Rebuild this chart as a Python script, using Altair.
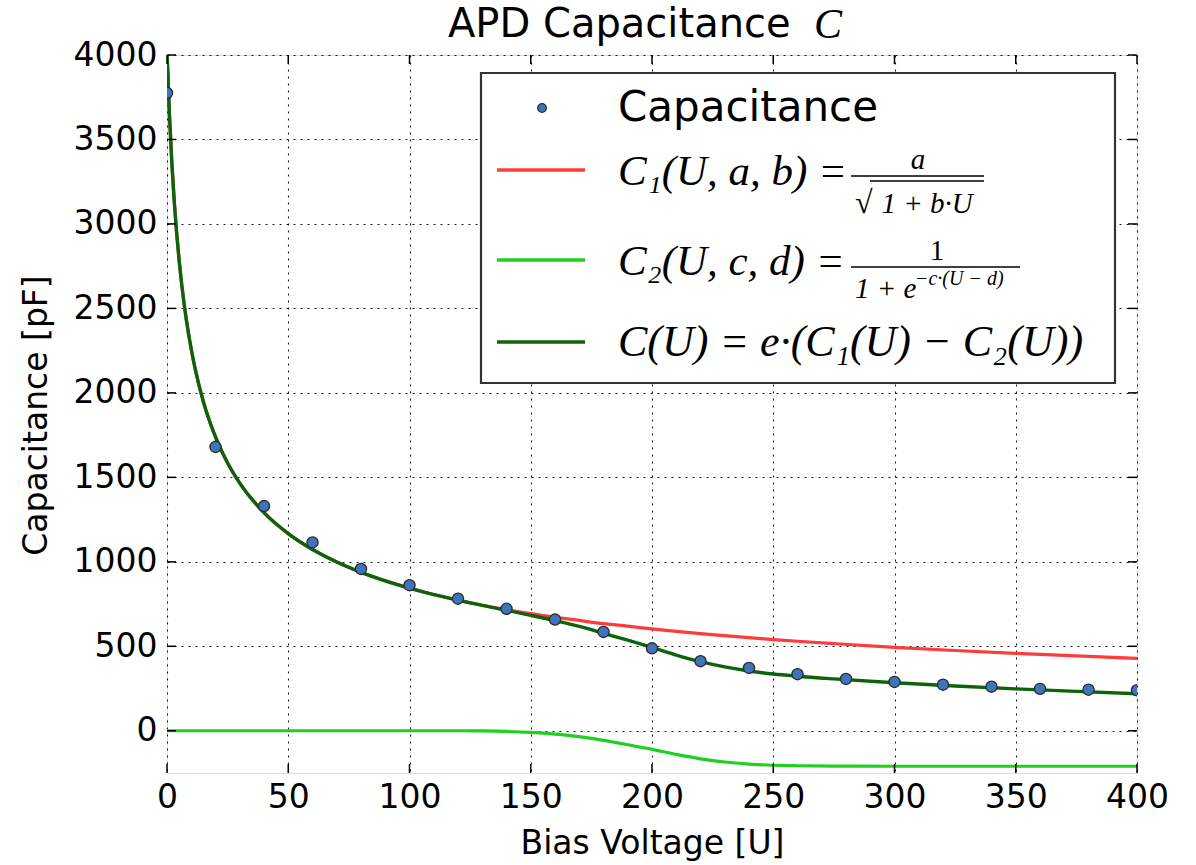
import altair as alt
import pandas as pd

# ---------------- data ----------------
U_meas = [0, 20, 40, 60, 80, 100, 120, 140, 160, 180, 200,
          220, 240, 260, 280, 300, 320, 340, 360, 380, 400]
C_meas = [3775, 1680, 1330, 1115, 958, 862, 782, 722, 658, 585, 488,
          412, 372, 335, 307, 289, 273, 261, 248, 243, 240]

U_fit = [0, 1, 2, 3, 4, 5, 6, 8, 10, 12, 15, 20, 25, 30, 40, 50, 60, 70, 80,
         100, 120, 130, 140, 150, 160, 170, 180, 190, 200, 210, 220, 230, 240,
         250, 260, 275, 300, 325, 350, 375, 400]
C1_fit = [4026, 3648, 3360, 3131, 2943, 2785, 2650, 2430, 2258, 2117, 1948,
          1739, 1585, 1466, 1291, 1167, 1073, 999, 938, 844, 773, 743, 717,
          693, 672, 653, 634, 619, 603, 588, 575, 563, 551, 540, 530, 516,
          494, 475, 458, 443, 429]
C2_fit = [0, 0, 0, 0, 0, 0, 0, 0, 0, 0, 0, 0, 0, 0, 0, 0, 0, 0, 0, 0, 0, -1,
          -4, -10, -20, -35, -57, -83, -110, -140, -166, -185, -197, -204,
          -207, -209, -210, -210, -210, -210, -210]
C_fit = [4026, 3648, 3360, 3131, 2943, 2785, 2650, 2430, 2258, 2117, 1948,
         1739, 1585, 1466, 1291, 1167, 1073, 999, 938, 844, 773, 742, 713,
         683, 652, 618, 577, 536, 493, 448, 409, 378, 354, 336, 323, 307,
         284, 265, 248, 233, 219]

x_ticks = [0, 50, 100, 150, 200, 250, 300, 350, 400]
y_ticks = [0, 500, 1000, 1500, 2000, 2500, 3000, 3500, 4000]

W, H = 970, 718
SANS = "DejaVu Sans"
MATH = "Liberation Serif"

xs = alt.Scale(domain=[0, 400], nice=False, zero=False)
ys = alt.Scale(domain=[-250, 4000], nice=False, zero=False)

x_axis = alt.Axis(values=x_ticks, grid=True, gridColor="black", gridDash=[2, 5],
                  gridWidth=1.1, gridOpacity=0.9, ticks=False, domain=False,
                  labelFont=SANS, labelFontSize=33, labelColor="black",
                  labelPadding=8, labelFlush=False, format="d",
                  title="Bias Voltage [U]", titleFont=SANS, titleFontSize=33,
                  titleFontWeight="normal", titleColor="black",
                  titleY=70, titleBaseline="middle")
y_axis = alt.Axis(values=y_ticks, grid=True, gridColor="black", gridDash=[2, 5],
                  gridWidth=1.1, gridOpacity=0.9, ticks=False, domain=False,
                  labelFont=SANS, labelFontSize=33, labelColor="black",
                  labelPadding=10, labelFlush=False, format="d",
                  title="Capacitance [pF]", titleFont=SANS, titleFontSize=33,
                  titleFontWeight="normal", titleColor="black",
                  titleX=-131, titleY=360, titleBaseline="middle",
                  titleAngle=270)

df_fit = pd.DataFrame({"U": U_fit, "C1": C1_fit, "C2": C2_fit, "C": C_fit})
df_meas = pd.DataFrame({"U": U_meas, "C": C_meas})

base = alt.Chart(df_fit)

red = base.mark_line(color="#ff3b3b", strokeWidth=3.2, clip=True,
                     interpolate="monotone").encode(
    x=alt.X("U:Q", scale=xs, axis=x_axis),
    y=alt.Y("C1:Q", scale=ys, axis=y_axis),
)
lgreen = base.mark_line(color="#1fd01f", strokeWidth=3.2, clip=True,
                        interpolate="monotone").encode(
    x=alt.X("U:Q", scale=xs), y=alt.Y("C2:Q", scale=ys))
dgreen = base.mark_line(color="#0b640b", strokeWidth=3.4, clip=True,
                        interpolate="monotone").encode(
    x=alt.X("U:Q", scale=xs), y=alt.Y("C:Q", scale=ys))
pts = alt.Chart(df_meas).mark_circle(color="#3f74bb", stroke="#2a2a2a",
                                      strokeWidth=1.3, size=125, opacity=1,
                                      clip=True).encode(
    x=alt.X("U:Q", scale=xs), y=alt.Y("C:Q", scale=ys))

# inward ticks on all four sides
dxt = pd.DataFrame({"U": x_ticks})
dyt = pd.DataFrame({"C": y_ticks})
tk = dict(color="black", strokeWidth=1.5)
xt_b = alt.Chart(dxt).mark_rule(**tk).encode(
    x=alt.X("U:Q", scale=xs), y=alt.value(H), y2=alt.value(H - 9))
xt_t = alt.Chart(dxt).mark_rule(**tk).encode(
    x=alt.X("U:Q", scale=xs), y=alt.value(0), y2=alt.value(9))
yt_l = alt.Chart(dyt).mark_rule(**tk).encode(
    y=alt.Y("C:Q", scale=ys), x=alt.value(0), x2=alt.value(9))
yt_r = alt.Chart(dyt).mark_rule(**tk).encode(
    y=alt.Y("C:Q", scale=ys), x=alt.value(W), x2=alt.value(W - 9))

# ---------------- custom legend ----------------
one = alt.Data(values=[{"k": 0}])


def txt(s, x, y, size, font=SANS, style="normal", align="left",
        baseline="middle"):
    return alt.Chart(one).mark_text(font=font, fontSize=size, fontStyle=style,
                                    align=align, baseline=baseline,
                                    color="black").encode(
        x=alt.value(x), y=alt.value(y), text=alt.value(s))


def hline(x1, x2, y, color="black", w=1.6):
    return alt.Chart(one).mark_rule(color=color, strokeWidth=w).encode(
        x=alt.value(x1), x2=alt.value(x2), y=alt.value(y))


box = alt.Chart(one).mark_rect(fill="white", stroke="#333333",
                               strokeWidth=2.2).encode(
    x=alt.value(314), x2=alt.value(948), y=alt.value(18), y2=alt.value(328))

leg_pt = alt.Chart(one).mark_circle(color="#3f74bb", stroke="#2a2a2a",
                                     strokeWidth=1.2, size=75, opacity=1).encode(
    x=alt.value(375), y=alt.value(53))

legend = [
    box,
    leg_pt,
    txt("Capacitance", 451, 53, 42),
    hline(330, 418, 115, "#ff3b3b", 3.4),
    txt("C\u2081(U, a, b) =", 451, 117, 43, MATH, "italic"),
    txt("a", 751, 114, 29, MATH, "italic", "center", "alphabetic"),
    hline(684, 817, 121),
    hline(703, 817, 126),
    txt("\u221a", 688, 148, 32, MATH, "normal", "left"),
    txt("1 + b\u00b7U", 760, 149, 29, MATH, "italic", "center"),
    hline(330, 418, 205, "#1fd01f", 3.4),
    txt("C\u2082(U, c, d) =", 451, 207, 43, MATH, "italic"),
    txt("1", 770, 196, 29, MATH, "normal", "center"),
    hline(684, 853, 212),
    txt("1 + e", 688, 234, 29, MATH, "italic", "left"),
    txt("\u2212c\u00b7(U \u2212 d)", 748, 224, 20, MATH, "italic", "left"),
    hline(330, 418, 287, "#0b640b", 3.4),
    txt("C(U) = e\u00b7(C\u2081(U) \u2212 C\u2082(U))", 451, 288, 44, MATH,
        "italic"),
]

title = [
    txt("APD Capacitance", 281, -30, 40, SANS, "normal", "left"),
    txt("C", 647, -30, 42, MATH, "italic", "left"),
]

chart = alt.layer(
    red, lgreen, dgreen, pts, xt_b, xt_t, yt_l, yt_r, *legend, *title
).properties(
    width=W, height=H,
    autosize=alt.AutoSizeParams(type="none"),
    padding={"left": 167, "top": 55, "right": 59, "bottom": 92},
).configure_view(stroke="black", strokeWidth=2.2).configure(background="white")

chart.save("out.html", embed_options={"renderer": "svg", "actions": False})
